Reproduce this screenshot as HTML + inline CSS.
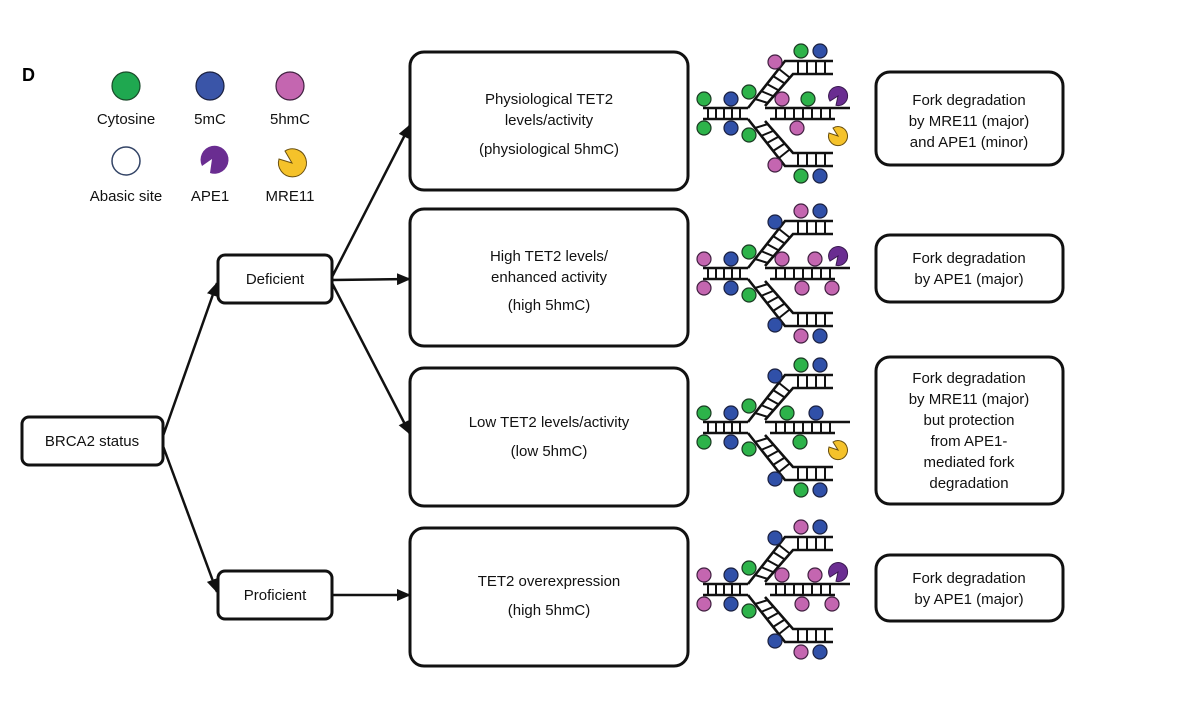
<!DOCTYPE html>
<html><head><meta charset="utf-8"><style>
body{margin:0;background:#fff;}
svg{display:block;font-family:"Liberation Sans",Arial,sans-serif;}
.b{fill:#fff;stroke:#111;stroke-width:3;}
.t{font-size:15px;fill:#111;text-anchor:middle;}
.s{stroke:#111;stroke-width:2.6;fill:none;}
.r{stroke:#111;stroke-width:2;}
.a{stroke:#111;stroke-width:2.5;}
circle.g{fill:#2db34a;stroke:#1a3a22;stroke-width:1.2}
circle.u{fill:#3050a8;stroke:#1a2040;stroke-width:1.2}
circle.p{fill:#c466b0;stroke:#402040;stroke-width:1.2}
</style></head><body>
<svg width="1200" height="721" viewBox="0 0 1200 721">
<defs>
<marker id="ar" markerWidth="14" markerHeight="12" refX="13" refY="6" orient="auto" markerUnits="userSpaceOnUse"><path d="M0,0 L14,6 L0,12 z" fill="#111"/></marker>
<g id="sk">
 <line class="s" x1="703" y1="108" x2="748" y2="108"/>
 <line class="s" x1="703" y1="119" x2="748" y2="119"/>
 <g class="r"><line x1="708" y1="108" x2="708" y2="119"/><line x1="716" y1="108" x2="716" y2="119"/><line x1="724" y1="108" x2="724" y2="119"/><line x1="732" y1="108" x2="732" y2="119"/><line x1="740" y1="108" x2="740" y2="119"/></g>
 <polyline class="s" points="748,108 785,61 833,61"/>
 <polyline class="s" points="765,106 793,74 833,74"/>
 <polyline class="s" points="748,119 785,166 833,166"/>
 <polyline class="s" points="765,121 793,153 833,153"/>
 <g class="r">
  <line x1="755" y1="99" x2="768" y2="103"/><line x1="761" y1="91" x2="773" y2="96"/><line x1="767" y1="84" x2="778" y2="90"/><line x1="773" y1="76" x2="784" y2="83"/><line x1="779" y1="69" x2="789" y2="77"/>
  <line x1="755" y1="128" x2="768" y2="124"/><line x1="761" y1="136" x2="773" y2="131"/><line x1="767" y1="143" x2="778" y2="137"/><line x1="773" y1="151" x2="784" y2="144"/><line x1="779" y1="158" x2="789" y2="150"/>
  <line x1="798" y1="61" x2="798" y2="74"/><line x1="807" y1="61" x2="807" y2="74"/><line x1="816" y1="61" x2="816" y2="74"/><line x1="825" y1="61" x2="825" y2="74"/>
  <line x1="798" y1="153" x2="798" y2="166"/><line x1="807" y1="153" x2="807" y2="166"/><line x1="816" y1="153" x2="816" y2="166"/><line x1="825" y1="153" x2="825" y2="166"/>
  <line x1="776" y1="108" x2="776" y2="119"/><line x1="785" y1="108" x2="785" y2="119"/><line x1="794" y1="108" x2="794" y2="119"/><line x1="803" y1="108" x2="803" y2="119"/><line x1="812" y1="108" x2="812" y2="119"/><line x1="821" y1="108" x2="821" y2="119"/><line x1="830" y1="108" x2="830" y2="119"/>
 </g>
 <line class="s" x1="765" y1="108" x2="850" y2="108"/>
 <line class="s" x1="770" y1="119" x2="835" y2="119"/>
</g>
<path id="ape" d="M0,0 L-8,5 A9.5,9.5 0 1 1 -2,9.3 Z" fill="#6a2d91" stroke="#3a1a50" stroke-width="1"/>
<path id="mre" d="M0,0 L-9,-3 A9.5,9.5 0 1 0 -5,-8 Z" fill="#f5c22a" stroke="#6a5010" stroke-width="1"/>
</defs>

<text x="22" y="81" style="font-size:18px;font-weight:bold">D</text>
<circle cx="126" cy="86" r="14" fill="#1fa850" stroke="#1a4a2a" stroke-width="1.2"/>
<circle cx="210" cy="86" r="14" fill="#3a55a8" stroke="#1a2040" stroke-width="1.2"/>
<circle cx="290" cy="86" r="14" fill="#c466b0" stroke="#402040" stroke-width="1.2"/>
<text class="t" x="126" y="124">Cytosine</text><text class="t" x="210" y="124">5mC</text><text class="t" x="290" y="124">5hmC</text>
<circle cx="126" cy="161" r="14" fill="#fff" stroke="#334466" stroke-width="1.5"/>
<path d="M210,161 L200,168 A14,14 0 1 1 208,175 Z" fill="#6a2d91" transform="translate(2,-2)"/>
<path d="M290,161 L277,157 A14,14 0 1 0 283,149 Z" fill="#f5c22a" stroke="#6a5010" stroke-width="1" transform="translate(2,2)"/>
<text class="t" x="126" y="201">Abasic site</text><text class="t" x="210" y="201">APE1</text><text class="t" x="290" y="201">MRE11</text>

<rect class="b" x="22" y="417" width="141" height="48" rx="7"/><text class="t" x="92" y="446">BRCA2 status</text>
<rect class="b" x="218" y="255" width="114" height="48" rx="7"/><text class="t" x="275" y="284">Deficient</text>
<rect class="b" x="218" y="571" width="114" height="48" rx="7"/><text class="t" x="275" y="600">Proficient</text>

<line class="a" x1="163" y1="436" x2="217" y2="283" marker-end="url(#ar)"/>
<line class="a" x1="163" y1="446" x2="217" y2="592" marker-end="url(#ar)"/>
<line class="a" x1="332" y1="277" x2="410" y2="125" marker-end="url(#ar)"/>
<line class="a" x1="332" y1="280" x2="410" y2="279" marker-end="url(#ar)"/>
<line class="a" x1="332" y1="283" x2="410" y2="434" marker-end="url(#ar)"/>
<line class="a" x1="332" y1="595" x2="410" y2="595" marker-end="url(#ar)"/>

<rect class="b" x="410" y="52" width="278" height="138" rx="14"/>
<text class="t" x="549" y="104">Physiological TET2</text><text class="t" x="549" y="125">levels/activity</text><text class="t" x="549" y="154">(physiological 5hmC)</text>
<rect class="b" x="410" y="209" width="278" height="137" rx="14"/>
<text class="t" x="549" y="261">High TET2 levels/</text><text class="t" x="549" y="282">enhanced activity</text><text class="t" x="549" y="310">(high 5hmC)</text>
<rect class="b" x="410" y="368" width="278" height="138" rx="14"/>
<text class="t" x="549" y="427">Low TET2 levels/activity</text><text class="t" x="549" y="456">(low 5hmC)</text>
<rect class="b" x="410" y="528" width="278" height="138" rx="14"/>
<text class="t" x="549" y="586">TET2 overexpression</text><text class="t" x="549" y="615">(high 5hmC)</text>

<rect class="b" x="876" y="72" width="187" height="93" rx="14"/>
<text class="t" x="969" y="105">Fork degradation</text><text class="t" x="969" y="126">by MRE11 (major)</text><text class="t" x="969" y="147">and APE1 (minor)</text>
<rect class="b" x="876" y="235" width="187" height="67" rx="14"/>
<text class="t" x="969" y="263">Fork degradation</text><text class="t" x="969" y="284">by APE1 (major)</text>
<rect class="b" x="876" y="357" width="187" height="147" rx="14"/>
<text class="t" x="969" y="383">Fork degradation</text><text class="t" x="969" y="404">by MRE11 (major)</text><text class="t" x="969" y="425">but protection</text><text class="t" x="969" y="446">from APE1-</text><text class="t" x="969" y="467">mediated fork</text><text class="t" x="969" y="488">degradation</text>
<rect class="b" x="876" y="555" width="187" height="66" rx="14"/>
<text class="t" x="969" y="583">Fork degradation</text><text class="t" x="969" y="604">by APE1 (major)</text>

<g>
<use href="#sk"/>
<circle class="g" cx="704" cy="99" r="7"/><circle class="u" cx="731" cy="99" r="7"/><circle class="g" cx="704" cy="128" r="7"/><circle class="u" cx="731" cy="128" r="7"/>
<circle class="g" cx="749" cy="92" r="7"/><circle class="g" cx="749" cy="135" r="7"/>
<circle class="p" cx="775" cy="62" r="7"/><circle class="p" cx="775" cy="165" r="7"/>
<circle class="g" cx="801" cy="51" r="7"/><circle class="u" cx="820" cy="51" r="7"/><circle class="g" cx="801" cy="176" r="7"/><circle class="u" cx="820" cy="176" r="7"/>
<circle class="p" cx="782" cy="99" r="7"/><circle class="g" cx="808" cy="99" r="7"/><circle class="p" cx="797" cy="128" r="7"/>
<use href="#ape" x="838" y="96"/><use href="#mre" x="838" y="136"/>
</g>
<g transform="translate(0,160)">
<use href="#sk"/>
<circle class="p" cx="704" cy="99" r="7"/><circle class="u" cx="731" cy="99" r="7"/><circle class="p" cx="704" cy="128" r="7"/><circle class="u" cx="731" cy="128" r="7"/>
<circle class="g" cx="749" cy="92" r="7"/><circle class="g" cx="749" cy="135" r="7"/>
<circle class="u" cx="775" cy="62" r="7"/><circle class="u" cx="775" cy="165" r="7"/>
<circle class="p" cx="801" cy="51" r="7"/><circle class="u" cx="820" cy="51" r="7"/><circle class="p" cx="801" cy="176" r="7"/><circle class="u" cx="820" cy="176" r="7"/>
<circle class="p" cx="782" cy="99" r="7"/><circle class="p" cx="815" cy="99" r="7"/><circle class="p" cx="802" cy="128" r="7"/><circle class="p" cx="832" cy="128" r="7"/>
<use href="#ape" x="838" y="96"/>
</g>
<g transform="translate(0,314)">
<use href="#sk"/>
<circle class="g" cx="704" cy="99" r="7"/><circle class="u" cx="731" cy="99" r="7"/><circle class="g" cx="704" cy="128" r="7"/><circle class="u" cx="731" cy="128" r="7"/>
<circle class="g" cx="749" cy="92" r="7"/><circle class="g" cx="749" cy="135" r="7"/>
<circle class="u" cx="775" cy="62" r="7"/><circle class="u" cx="775" cy="165" r="7"/>
<circle class="g" cx="801" cy="51" r="7"/><circle class="u" cx="820" cy="51" r="7"/><circle class="g" cx="801" cy="176" r="7"/><circle class="u" cx="820" cy="176" r="7"/>
<circle class="g" cx="787" cy="99" r="7"/><circle class="u" cx="816" cy="99" r="7"/><circle class="g" cx="800" cy="128" r="7"/>
<use href="#mre" x="838" y="136"/>
</g>
<g transform="translate(0,476)">
<use href="#sk"/>
<circle class="p" cx="704" cy="99" r="7"/><circle class="u" cx="731" cy="99" r="7"/><circle class="p" cx="704" cy="128" r="7"/><circle class="u" cx="731" cy="128" r="7"/>
<circle class="g" cx="749" cy="92" r="7"/><circle class="g" cx="749" cy="135" r="7"/>
<circle class="u" cx="775" cy="62" r="7"/><circle class="u" cx="775" cy="165" r="7"/>
<circle class="p" cx="801" cy="51" r="7"/><circle class="u" cx="820" cy="51" r="7"/><circle class="p" cx="801" cy="176" r="7"/><circle class="u" cx="820" cy="176" r="7"/>
<circle class="p" cx="782" cy="99" r="7"/><circle class="p" cx="815" cy="99" r="7"/><circle class="p" cx="802" cy="128" r="7"/><circle class="p" cx="832" cy="128" r="7"/>
<use href="#ape" x="838" y="96"/>
</g>
</svg>
</body></html>
